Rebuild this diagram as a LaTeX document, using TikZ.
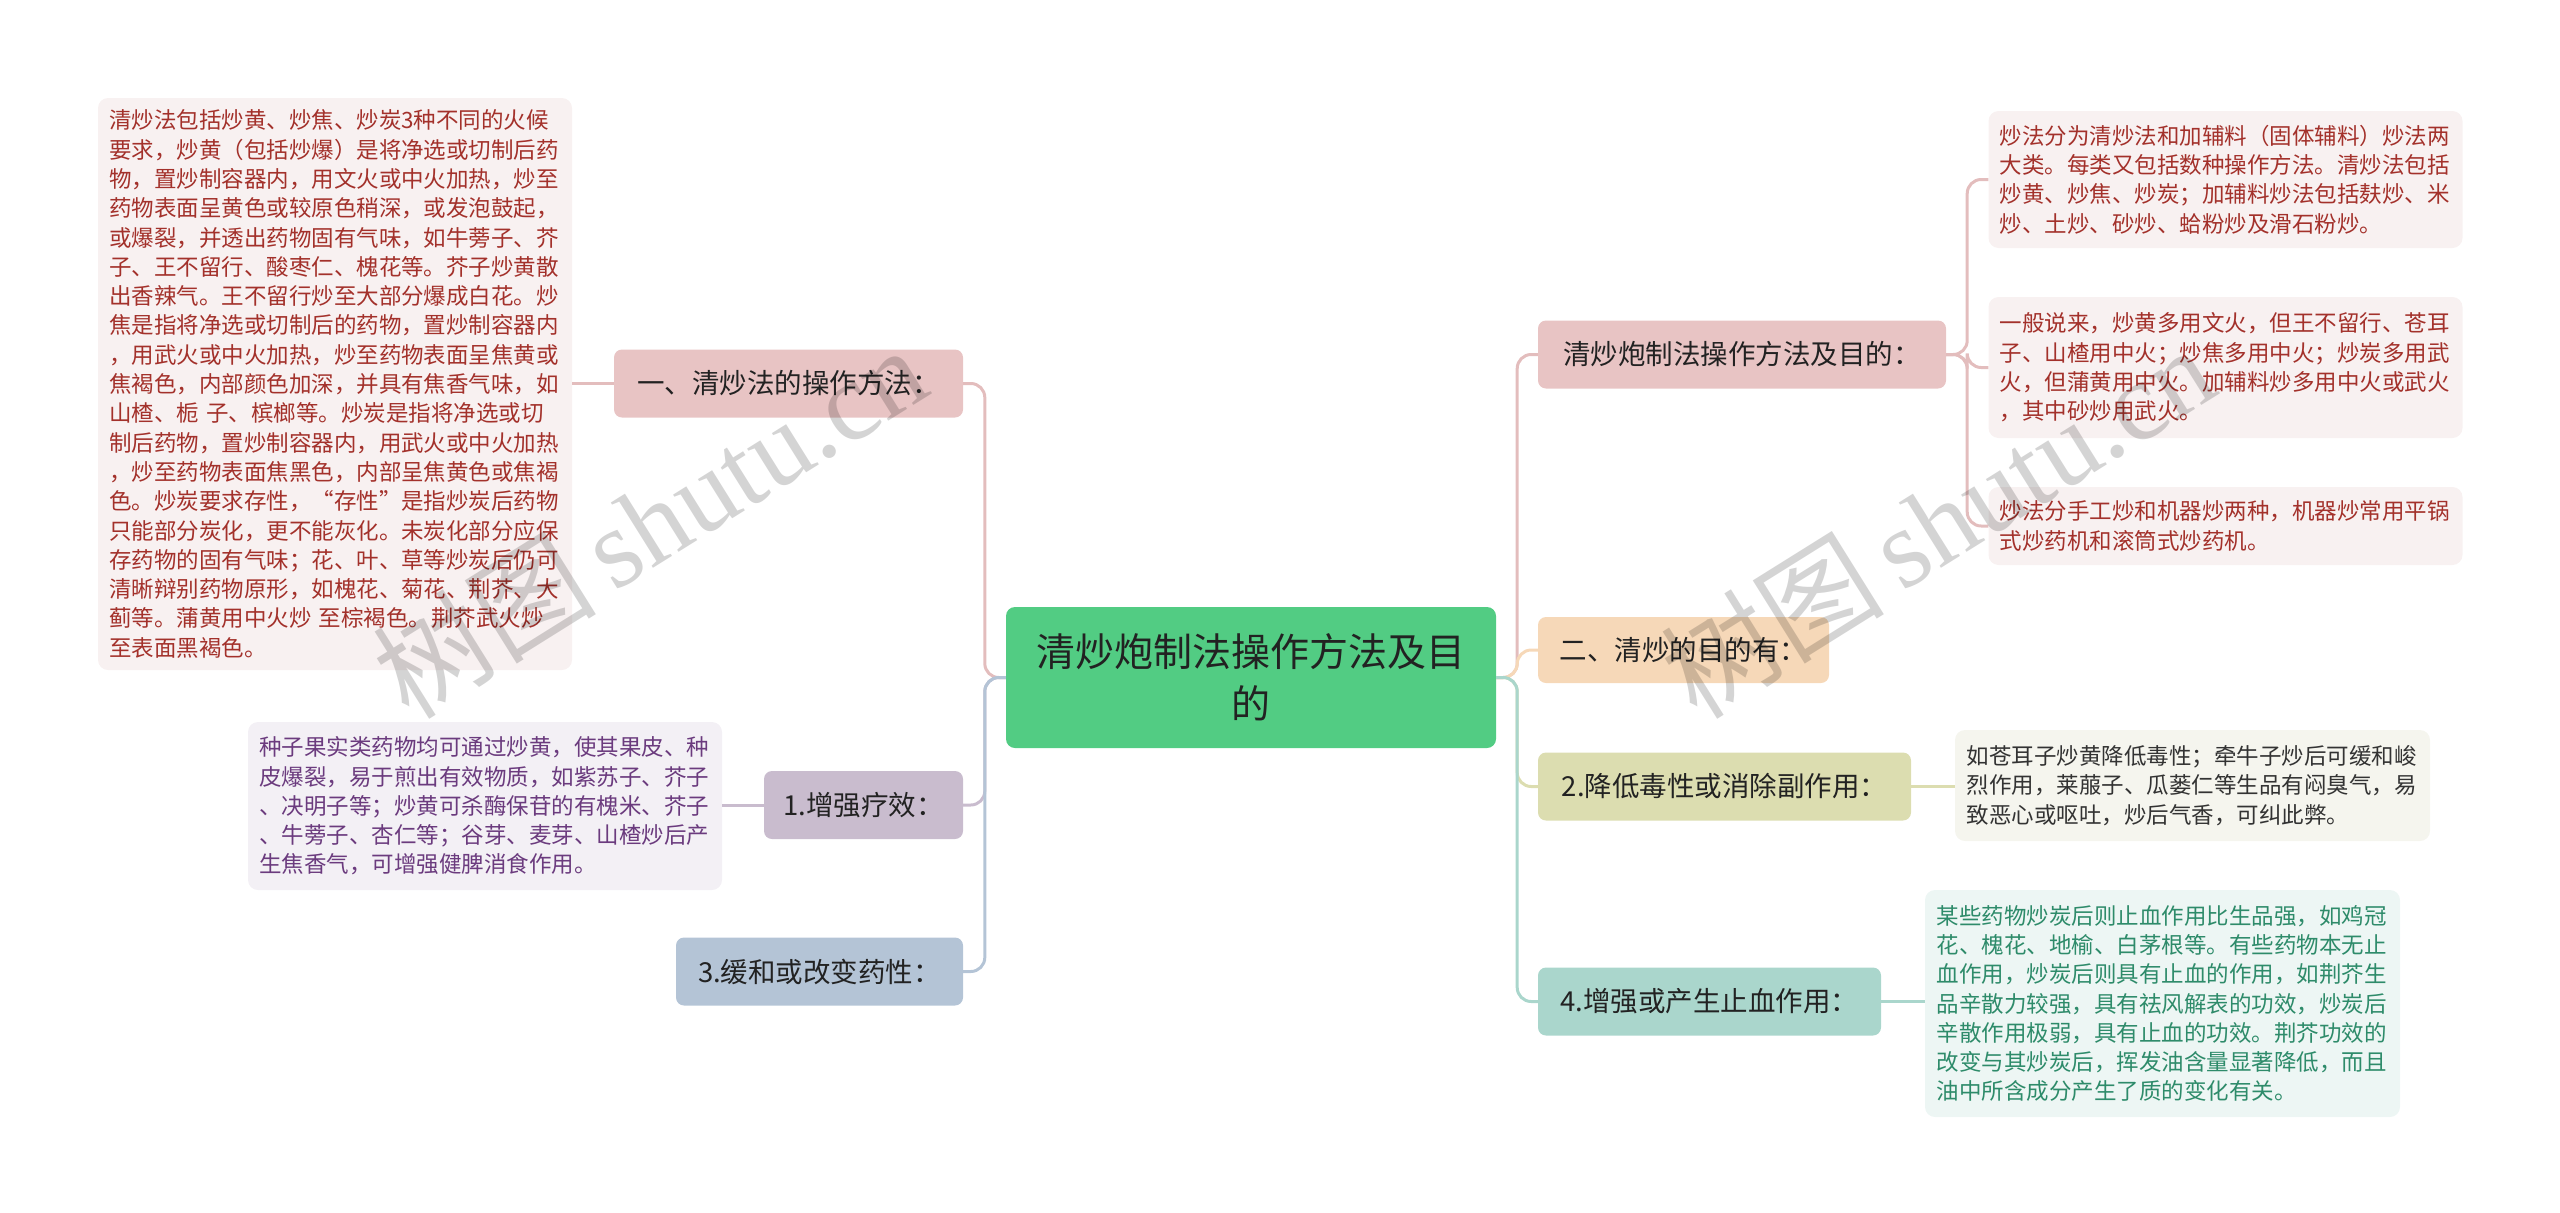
\documentclass[tikz,border=0pt]{standalone}
\usepackage{fontspec}
\setmainfont{Noto Sans CJK SC}
\newfontfamily\wmlatin{Liberation Serif}
\definecolor{cgreen}{HTML}{52CC83}
\definecolor{cpink}{HTML}{E8C4C4}
\definecolor{cpinkline}{HTML}{E3BDBD}
\definecolor{cpurple}{HTML}{C9BCCE}
\definecolor{cblue}{HTML}{B4C4D6}
\definecolor{cpeach}{HTML}{F6D8B8}
\definecolor{colive}{HTML}{DCDDB0}
\definecolor{cteal}{HTML}{AAD6CC}
\definecolor{lpink}{HTML}{F8F1F1}
\definecolor{lpurple}{HTML}{F3F0F5}
\definecolor{lolive}{HTML}{F5F5EE}
\definecolor{lteal}{HTML}{EDF6F4}
\definecolor{tred}{HTML}{A3312B}
\definecolor{tpurple}{HTML}{6B3B7E}
\definecolor{tgray}{HTML}{333333}
\definecolor{tteal}{HTML}{2E8B6A}
\definecolor{tdark}{HTML}{222222}
\newcommand\leaffont{\fontsize{22.5}{29.3}\selectfont}
\newcommand\branchfont{\fontsize{27.5}{33}\selectfont}
\begin{document}
\begin{tikzpicture}[x=1pt,y=-1pt,
  mainbox/.style={rounded corners=9pt, inner sep=0pt, align=center, text=tdark, font=\fontsize{39}{52}\selectfont},
  branch/.style={rounded corners=8pt, inner sep=0pt, align=center, text=tdark, font=\branchfont, minimum height=68},
  leaf/.style={rounded corners=10pt, inner xsep=11pt, inner ysep=0pt, align=left, font=\leaffont, text width=452, minimum width=474},
  conn/.style={line width=3pt, rounded corners=14pt},
  wm/.style={rotate=32, text=black, opacity=0.17, inner sep=0pt}]
\useasboundingbox (0,0) rectangle (2560,1213);

% nodes
\node[mainbox, fill=cgreen, minimum width=490, minimum height=141] (c) at (1251,677.5) {清炒炮制法操作方法及目\\的};

\node[branch, fill=cpink, minimum width=349] (A) at (788.5,383.5) {一、清炒法的操作方法：};
\node[leaf, fill=lpink, text=tred, minimum height=572] (Al) at (335,384) {清炒法包括炒黄、炒焦、炒炭3种不同的火候\\要求，炒黄（包括炒爆）是将净选或切制后药\\物，置炒制容器内，用文火或中火加热，炒至\\药物表面呈黄色或较原色稍深，或发泡鼓起，\\或爆裂，并透出药物固有气味，如牛蒡子、芥\\子、王不留行、酸枣仁、槐花等。芥子炒黄散\\出香辣气。王不留行炒至大部分爆成白花。炒\\焦是指将净选或切制后的药物，置炒制容器内\\，用武火或中火加热，炒至药物表面呈焦黄或\\焦褐色，内部颜色加深，并具有焦香气味，如\\山楂、栀 子、槟榔等。炒炭是指将净选或切\\制后药物，置炒制容器内，用武火或中火加热\\，炒至药物表面焦黑色，内部呈焦黄色或焦褐\\色。炒炭要求存性，“存性”是指炒炭后药物\\只能部分炭化，更不能灰化。未炭化部分应保\\存药物的固有气味；花、叶、草等炒炭后仍可\\清晰辩别药物原形，如槐花、菊花、荆芥、大\\蓟等。蒲黄用中火炒 至棕褐色。荆芥武火炒\\至表面黑褐色。};

\node[branch, fill=cpurple, minimum width=199] (B) at (863.5,805) {1.增强疗效：};
\node[leaf, fill=lpurple, text=tpurple, minimum height=168] (Bl) at (485,806) {种子果实类药物均可通过炒黄，使其果皮、种\\皮爆裂，易于煎出有效物质，如紫苏子、芥子\\、决明子等；炒黄可杀酶保苷的有槐米、芥子\\、牛蒡子、杏仁等；谷芽、麦芽、山楂炒后产\\生焦香气，可增强健脾消食作用。};

\node[branch, fill=cblue, minimum width=287] (C) at (819.5,971.5) {3.缓和或改变药性：};

\node[branch, fill=cpink, minimum width=408] (D) at (1742,354.5) {清炒炮制法操作方法及目的：};
\node[leaf, fill=lpink, text=tred, minimum height=137] (D1) at (2225.5,179.5) {炒法分为清炒法和加辅料（固体辅料）炒法两\\大类。每类又包括数种操作方法。清炒法包括\\炒黄、炒焦、炒炭；加辅料炒法包括麸炒、米\\炒、土炒、砂炒、蛤粉炒及滑石粉炒。};
\node[leaf, fill=lpink, text=tred, minimum height=141] (D2) at (2225.5,367.5) {一般说来，炒黄多用文火，但王不留行、苍耳\\子、山楂用中火；炒焦多用中火；炒炭多用武\\火，但蒲黄用中火。加辅料炒多用中火或武火\\，其中砂炒用武火。};
\node[leaf, fill=lpink, text=tred, minimum height=78] (D3) at (2225.5,526) {炒法分手工炒和机器炒两种，机器炒常用平锅\\式炒药机和滚筒式炒药机。};

\node[branch, fill=cpeach, minimum width=291, minimum height=66] (E) at (1683.5,650) {二、清炒的目的有：};

\node[branch, fill=colive, minimum width=373] (F) at (1724.5,786.5) {2.降低毒性或消除副作用：};
\node[leaf, fill=lolive, text=tgray, minimum width=475, minimum height=111] (Fl) at (2192.5,785.5) {如苍耳子炒黄降低毒性；牵牛子炒后可缓和峻\\烈作用，莱菔子、瓜蒌仁等生品有闷臭气，易\\致恶心或呕吐，炒后气香，可纠此弊。};

\node[branch, fill=cteal, minimum width=343] (G) at (1709.5,1001.5) {4.增强或产生止血作用：};
\node[leaf, fill=lteal, text=tteal, minimum width=475, minimum height=227] (Gl) at (2162.5,1003.5) {某些药物炒炭后则止血作用比生品强，如鸡冠\\花、槐花、地榆、白茅根等。有些药物本无止\\血作用，炒炭后则具有止血的作用，如荆芥生\\品辛散力较强，具有祛风解表的功效，炒炭后\\辛散作用极弱，具有止血的功效。荆芥功效的\\改变与其炒炭后，挥发油含量显著降低，而且\\油中所含成分产生了质的变化有关。};

% connectors
\begin{scope}[on background layer/.try]
\end{scope}
\draw[conn, cpinkline] (c.west) -- ++(-21,0) |- (A.east);
\draw[conn, cpurple] (c.west) -- ++(-21,0) |- (B.east);
\draw[conn, cblue] (c.west) -- ++(-21,0) |- (C.east);
\draw[conn, cpinkline] (A.west) -- (A.west -| Al.east);
\draw[conn, cpurple] (B.west) -- (B.west -| Bl.east);

\draw[conn, cpinkline] (c.east) -- ++(21,0) |- (D.west);
\draw[conn, cpeach] (c.east) -- ++(21,0) |- (E.west);
\draw[conn, colive] (c.east) -- ++(21,0) |- (F.west);
\draw[conn, cteal] (c.east) -- ++(21,0) |- (G.west);
\draw[conn, cpinkline] (D.east) -- ++(21,0) |- (D1.west);
\draw[conn, cpinkline] (D.east) -- ++(21,0) |- (D2.west);
\draw[conn, cpinkline] (D.east) -- ++(21,0) |- (D3.west);
\draw[conn, colive] (F.east) -- (F.east -| Fl.west);
\draw[conn, cteal] (G.east) -- (G.east -| Gl.west);

% watermarks
\node[wm, font=\fontsize{112}{112}\selectfont] (wm1) at (649,521) {树图\,{\wmlatin shutu.cn}};
\node[wm, font=\fontsize{112}{112}\selectfont] (wm2) at (1937,521) {树图\,{\wmlatin shutu.cn}};
\end{tikzpicture}
\end{document}
